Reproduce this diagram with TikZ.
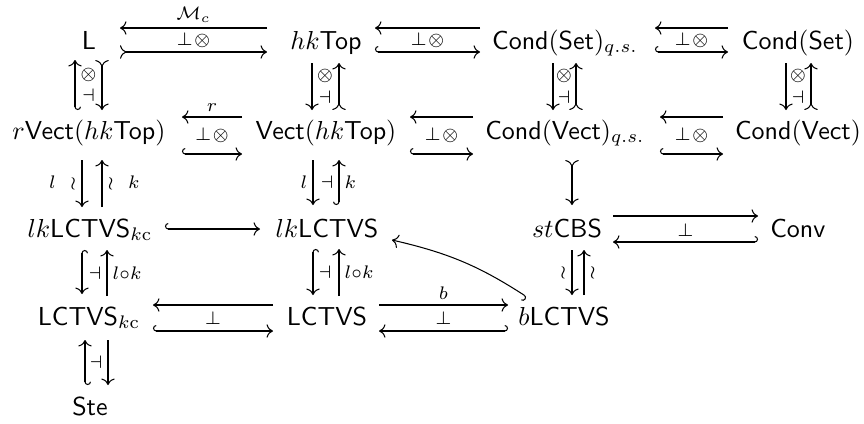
\documentclass[tikz,border=0pt]{standalone}
\usepackage{amsmath,amssymb}
\usetikzlibrary{arrows.meta,calc}

\begin{document}
\begin{tikzpicture}[x=0.3846pt,y=-0.3846pt,>=To]
\tikzset{
% objects sit on their baseline
cat/.style={anchor=base,inner sep=0pt},
% plain, mono and hooked maps
map/.style={->},
mono/.style={>->},
emb/.style={{Hooks[right]}->},
embl/.style={{Hooks[left]}->},
lbl/.style={font=\scriptsize,inner sep=2pt}
}
\useasboundingbox (0,0) rectangle (864,423);

% The objects, row by row
\node[cat] (L) at (89,49) {$\mathsf{L}$};
\node[cat] (hk) at (326,49) {$hk\mathsf{Top}$};
\node[cat] (CSq) at (565,49) {$\mathsf{Cond}(\mathsf{Set})_{q.s.}$};
\node[cat] (CS) at (798,49) {$\mathsf{Cond}(\mathsf{Set})$};
\node[cat] (rV) at (89,139) {$r\mathsf{Vect}(hk\mathsf{Top})$};
\node[cat] (V) at (326,139) {$\mathsf{Vect}(hk\mathsf{Top})$};
\node[cat] (CVq) at (565,139) {$\mathsf{Cond}(\mathsf{Vect})_{q.s.}$};
\node[cat] (CV) at (798,139) {$\mathsf{Cond}(\mathsf{Vect})$};
\node[cat] (lkkc) at (90,237) {$lk\mathsf{LCTVS}_{k\mathrm{c}}$};
\node[cat] (lk) at (327,237) {$lk\mathsf{LCTVS}$};
\node[cat] (st) at (567,237) {$st\mathsf{CBS}$};
\node[cat] (Conv) at (798,237) {$\mathsf{Conv}$};
\node[cat] (Lkc) at (89,325) {$\mathsf{LCTVS}_{k\mathrm{c}}$};
\node[cat] (LC) at (327,325) {$\mathsf{LCTVS}$};
\node[cat] (bL) at (564,325) {$b\mathsf{LCTVS}$};
\node[cat] (Ste) at (90,415) {$\mathsf{Ste}$};

% first row
\draw[map] ($(hk.base)+(-59,-21)$) -- ($(L.base)+(31,-21)$) node[midway,above,lbl]{$\mathcal{M}_c$};
\draw[mono] ($(L.base)+(31,3)$) -- ($(hk.base)+(-59,3)$) node[midway,yshift=4.6pt,lbl]{$\perp\mkern-4mu\otimes$};
\draw[map] ($(CSq.base)+(-85,-21)$) -- ($(hk.base)+(49,-21)$);
\draw[emb] ($(hk.base)+(49,3)$) -- ($(CSq.base)+(-85,3)$) node[midway,yshift=4.6pt,lbl]{$\perp\mkern-4mu\otimes$};
\draw[map] ($(CS.base)+(-70,-21)$) -- ($(CSq.base)+(90,-21)$);
\draw[emb] ($(CSq.base)+(90,3)$) -- ($(CS.base)+(-70,3)$) node[midway,yshift=4.6pt,lbl]{$\perp\mkern-4mu\otimes$};

% second row
\draw[map] ($(V.base)+(-84,-22)$) -- ($(rV.base)+(93,-22)$) node[midway,above,lbl]{$r$};
\draw[emb] ($(rV.base)+(93,15)$) -- ($(V.base)+(-84,15)$) node[midway,yshift=7.2pt,lbl]{$\perp\mkern-4mu\otimes$};
\draw[map] ($(CVq.base)+(-92,-22)$) -- ($(V.base)+(84,-22)$);
\draw[emb] ($(V.base)+(84,15)$) -- ($(CVq.base)+(-92,15)$) node[midway,yshift=7.2pt,lbl]{$\perp\mkern-4mu\otimes$};
\draw[map] ($(CV.base)+(-75,-22)$) -- ($(CVq.base)+(95,-22)$);
\draw[emb] ($(CVq.base)+(95,15)$) -- ($(CV.base)+(-75,15)$) node[midway,yshift=7.2pt,lbl]{$\perp\mkern-4mu\otimes$};

% first to second row
\draw[embl] ($(rV.base)+(-14,-29)$) -- ($(L.base)+(-14,11)$);
\draw[mono] ($(L.base)+(13,11)$) -- ($(rV.base)+(13,-29)$) node[midway,xshift=-5.2pt,lbl,inner sep=0pt]{\shortstack{$\otimes$\\$\dashv$}};
\draw[map] ($(hk.base)+(-14,14)$) -- ($(V.base)+(-14,-29)$);
\draw[mono] ($(V.base)+(13,-29)$) -- ($(hk.base)+(13,14)$) node[midway,xshift=-5.4pt,lbl,inner sep=0pt]{\shortstack{$\otimes$\\$\dashv$}};
\draw[map] ($(CSq.base)+(-12,14)$) -- ($(CVq.base)+(-12,-29)$);
\draw[mono] ($(CVq.base)+(11,-29)$) -- ($(CSq.base)+(11,14)$) node[midway,xshift=-4.6pt,lbl,inner sep=0pt]{\shortstack{$\otimes$\\$\dashv$}};
\draw[map] ($(CS.base)+(-12,14)$) -- ($(CV.base)+(-12,-29)$);
\draw[mono] ($(CV.base)+(13,-29)$) -- ($(CS.base)+(13,14)$) node[midway,xshift=-5pt,lbl,inner sep=0pt]{\shortstack{$\otimes$\\$\dashv$}};

% second to third row
\draw[map] ($(rV.base)+(-7,21)$) -- ($(lkkc.base)+(-8,-30)$) node[midway,left,lbl]{$l$\hspace{5.5pt}$\wr$};
\draw[map] ($(lkkc.base)+(12,-30)$) -- ($(rV.base)+(13,21)$) node[midway,right,lbl]{$\wr$\hspace{5.5pt}$k$};
\draw[map] ($(V.base)+(-13,21)$) -- ($(lk.base)+(-14,-32)$) node[midway,left,lbl]{$l$};
\draw[emb] ($(lk.base)+(12,-32)$) -- ($(V.base)+(13,21)$) node[midway,right,lbl]{$k$} node[midway,xshift=-4.6pt,lbl,inner sep=0pt]{$\dashv$};
\draw[mono] ($(CVq.base)+(7,21)$) -- ($(st.base)+(5,-32)$);

% third row
\draw[emb] ($(lkkc.base)+(75,-8)$) -- ($(lk.base)+(-67,-8)$);
\draw[map] ($(st.base)+(46,-21)$) -- ($(Conv.base)+(-40,-21)$);
\draw[embl] ($(Conv.base)+(-40,5)$) -- ($(st.base)+(46,5)$) node[midway,yshift=4.6pt,lbl]{$\perp$};
\draw[emb] ($(bL.base)+(-37,-28)$) to[bend right=10] ($(lk.base)+(65,3)$);

% third to fourth row
\draw[emb] ($(lkkc.base)+(-8,13)$) -- ($(Lkc.base)+(-7,-31)$);
\draw[map] ($(Lkc.base)+(18,-29)$) -- ($(lkkc.base)+(17,13)$) node[midway,right,lbl]{$l{\circ}k$} node[midway,xshift=-4.6pt,lbl,inner sep=0pt]{$\dashv$};
\draw[emb] ($(lk.base)+(-14,12)$) -- ($(LC.base)+(-14,-30)$);
\draw[map] ($(LC.base)+(12,-29)$) -- ($(lk.base)+(12,12)$) node[midway,right,lbl]{$l{\circ}k$} node[midway,xshift=-5.4pt,lbl,inner sep=0pt]{$\dashv$};
\draw[map] ($(st.base)+(5,13)$) -- ($(bL.base)+(8,-30)$) node[midway,left,lbl]{$\wr$};
\draw[map] ($(bL.base)+(20,-30)$) -- ($(st.base)+(17,13)$) node[midway,right,lbl]{$\wr$};

% fourth row
\draw[map] ($(LC.base)+(-54,-20)$) -- ($(Lkc.base)+(64,-20)$);
\draw[emb] ($(Lkc.base)+(64,6)$) -- ($(LC.base)+(-54,6)$) node[midway,yshift=5pt,lbl]{$\perp$};
\draw[map] ($(LC.base)+(52,-20)$) -- ($(bL.base)+(-56,-20)$) node[midway,above,lbl]{$b$};
\draw[embl] ($(bL.base)+(-56,6)$) -- ($(LC.base)+(52,6)$) node[midway,yshift=5pt,lbl]{$\perp$};

% fourth to fifth row
\draw[embl] ($(Ste.base)+(-5,-30)$) -- ($(Lkc.base)+(-4,15)$);
\draw[map] ($(Lkc.base)+(19,15)$) -- ($(Ste.base)+(18,-30)$) node[midway,xshift=-4.6pt,lbl,inner sep=0pt]{$\dashv$};
\end{tikzpicture}
\end{document}
